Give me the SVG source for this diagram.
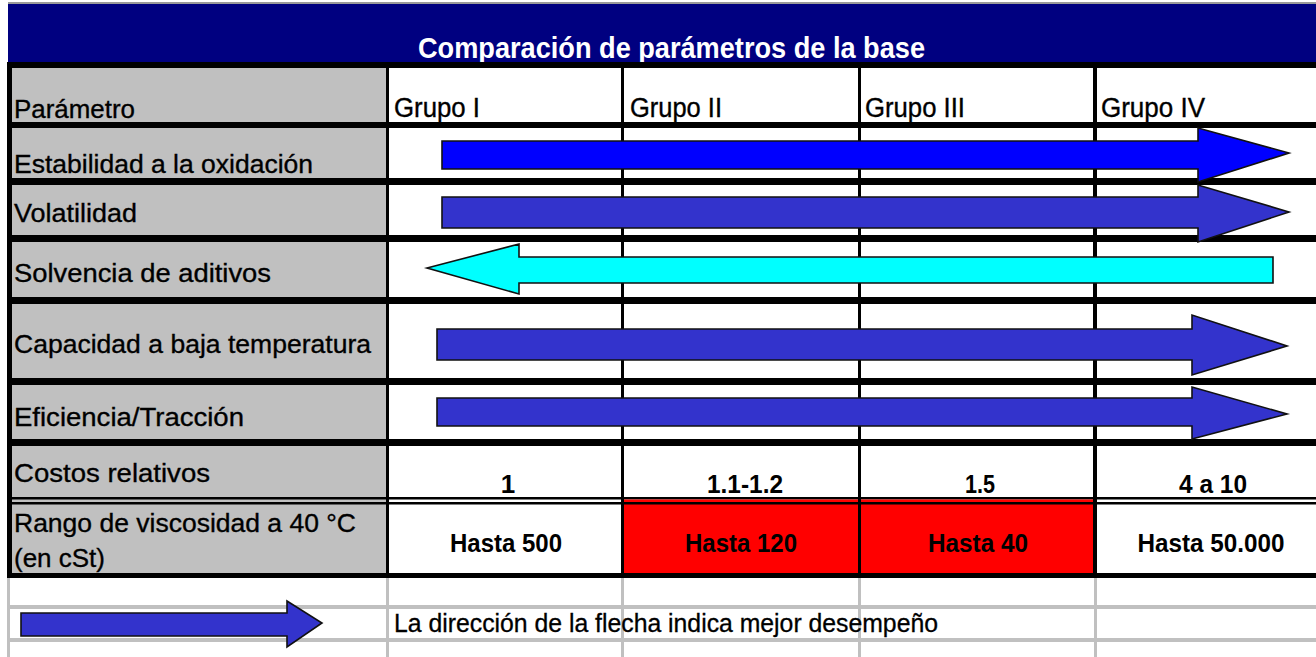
<svg xmlns="http://www.w3.org/2000/svg" width="1316" height="657" viewBox="0 0 1316 657">
<style>
  .lbl { font-family: "Liberation Sans", Arial, sans-serif; font-size: 26.5px; fill: #000; stroke: #000; stroke-width: 0.35; }
  .hdr { font-family: "Liberation Sans", Arial, sans-serif; font-size: 27px; fill: #000; stroke: #000; stroke-width: 0.35; }
  .val { font-family: "Liberation Sans", Arial, sans-serif; font-size: 26px; font-weight: bold; fill: #000; text-anchor: middle; }
  .title { font-family: "Liberation Sans", Arial, sans-serif; font-size: 30px; font-weight: bold; fill: #fff; }
  .note { font-family: "Liberation Sans", Arial, sans-serif; font-size: 25px; fill: #000; stroke: #000; stroke-width: 0.3; }
  .arrow { stroke: #111; stroke-width: 1.6; stroke-linejoin: miter; }
  .blk { fill: #000; }
  .gry { fill: #c0c0c0; }
</style>
<rect x="0" y="0" width="1316" height="657" fill="#fff"/>

<!-- title bar -->
<g id="title">
  <rect x="8" y="2" width="1308" height="2" fill="#9a9a9a"/>
  <rect x="8" y="4" width="1308" height="59" fill="#000080"/>
  <text class="title" x="418" y="58" textLength="507" lengthAdjust="spacingAndGlyphs">Comparación de parámetros de la base</text>
</g>

<!-- cell fills -->
<g id="fills">
  <rect class="gry" x="12" y="68" width="374" height="510"/>
  <rect x="624" y="500" width="236" height="74" fill="#ff0000"/>
  <rect x="860" y="500" width="234" height="74" fill="#ff0000"/>
</g>

<!-- bottom light grid -->
<g id="light-grid">
  <rect class="gry" x="7" y="578" width="3" height="79"/>
  <rect class="gry" x="386" y="578" width="3" height="79"/>
  <rect class="gry" x="621" y="578" width="3" height="79"/>
  <rect class="gry" x="858" y="578" width="3" height="79"/>
  <rect class="gry" x="1094" y="578" width="3" height="79"/>
  <rect class="gry" x="7" y="605" width="1309" height="4"/>
  <rect class="gry" x="7" y="638" width="1309" height="4"/>
</g>

<!-- table grid -->
<g id="grid">
  <rect class="blk" x="7" y="62" width="1309" height="6"/>
  <rect class="blk" x="7" y="122" width="1309" height="6"/>
  <rect class="blk" x="7" y="178" width="1309" height="7"/>
  <rect class="blk" x="7" y="235" width="1309" height="7"/>
  <rect class="blk" x="7" y="297" width="1309" height="7"/>
  <rect class="blk" x="7" y="378" width="1309" height="7"/>
  <rect class="blk" x="7" y="439" width="1309" height="7"/>
  <rect class="blk" x="7" y="497" width="1309" height="2.5"/>
  <rect x="624" y="499.5" width="470" height="2" fill="#ff0000"/>
  <rect class="blk" x="7" y="502" width="1309" height="2.5"/>
  <rect class="blk" x="7" y="573" width="1309" height="5"/>
  <rect class="blk" x="7" y="62" width="5" height="516"/>
  <rect class="blk" x="386" y="68" width="3" height="510"/>
  <rect class="blk" x="621" y="68" width="3" height="510"/>
  <rect class="blk" x="858" y="68" width="3" height="510"/>
  <rect class="blk" x="1093" y="68" width="4" height="510"/>
</g>

<!-- header row -->
<g id="row-header">
  <text class="lbl" x="14" y="118" textLength="121" lengthAdjust="spacingAndGlyphs">Parámetro</text>
  <text class="hdr" x="394" y="117" textLength="86" lengthAdjust="spacingAndGlyphs">Grupo I</text>
  <text class="hdr" x="630" y="117" textLength="92" lengthAdjust="spacingAndGlyphs">Grupo II</text>
  <text class="hdr" x="865" y="117" textLength="100" lengthAdjust="spacingAndGlyphs">Grupo III</text>
  <text class="hdr" x="1101" y="117" textLength="104" lengthAdjust="spacingAndGlyphs">Grupo IV</text>
</g>

<!-- row labels -->
<g id="row-estabilidad">
  <text class="lbl" x="14" y="173" textLength="299" lengthAdjust="spacingAndGlyphs">Estabilidad a la oxidación</text>
</g>
<g id="row-volatilidad">
  <text class="lbl" x="14" y="222" textLength="123" lengthAdjust="spacingAndGlyphs">Volatilidad</text>
</g>
<g id="row-solvencia">
  <text class="lbl" x="14" y="282" textLength="257" lengthAdjust="spacingAndGlyphs">Solvencia de aditivos</text>
</g>
<g id="row-capacidad">
  <text class="lbl" x="14" y="353" textLength="357" lengthAdjust="spacingAndGlyphs">Capacidad a baja temperatura</text>
</g>
<g id="row-eficiencia">
  <text class="lbl" x="14" y="426" textLength="230" lengthAdjust="spacingAndGlyphs">Eficiencia/Tracción</text>
</g>
<g id="row-costos">
  <text class="lbl" x="14" y="482" textLength="196" lengthAdjust="spacingAndGlyphs">Costos relativos</text>
  <text class="val" x="508" y="493">1</text>
  <text class="val" x="745" y="493" textLength="76" lengthAdjust="spacingAndGlyphs">1.1-1.2</text>
  <text class="val" x="980" y="493" textLength="30" lengthAdjust="spacingAndGlyphs">1.5</text>
  <text class="val" x="1213" y="493" textLength="68" lengthAdjust="spacingAndGlyphs">4 a 10</text>
</g>
<g id="row-rango">
  <text class="lbl" x="14" y="532" textLength="342" lengthAdjust="spacingAndGlyphs">Rango de viscosidad a 40 °C</text>
  <text class="lbl" x="14" y="567" textLength="91" lengthAdjust="spacingAndGlyphs">(en cSt)</text>
  <text class="val" x="506" y="552" textLength="112" lengthAdjust="spacingAndGlyphs">Hasta 500</text>
  <text class="val" x="741" y="552" textLength="112" lengthAdjust="spacingAndGlyphs">Hasta 120</text>
  <text class="val" x="978" y="552" textLength="100" lengthAdjust="spacingAndGlyphs">Hasta 40</text>
  <text class="val" x="1211" y="552" textLength="147" lengthAdjust="spacingAndGlyphs">Hasta 50.000</text>
</g>

<!-- arrows -->
<g id="connectors">
  <polygon class="arrow" fill="#0000ff" points="442,141 1198,141 1198,128 1289,153 1198,182 1198,169 442,169"/>
  <polygon class="arrow" fill="#3333cc" points="442,197 1198,197 1198,185 1289,212 1198,242 1198,228 442,228"/>
  <polygon class="arrow" fill="#00ffff" points="1273,257 519,257 519,244 427,268 519,294 519,283 1273,283"/>
  <polygon class="arrow" fill="#3333cc" points="437,329 1192,329 1192,315 1287,346 1192,375 1192,360 437,360"/>
  <polygon class="arrow" fill="#3333cc" points="437,398 1192,398 1192,387 1287,414 1192,439 1192,426 437,426"/>
</g>

<!-- legend -->
<g id="legend">
  <polygon class="arrow" fill="#3333cc" points="21,613 287,613 287,601 322,623 287,647 287,636 21,636"/>
  <text class="note" x="394" y="632" textLength="544" lengthAdjust="spacingAndGlyphs">La dirección de la flecha indica mejor desempeño</text>
</g>
</svg>
